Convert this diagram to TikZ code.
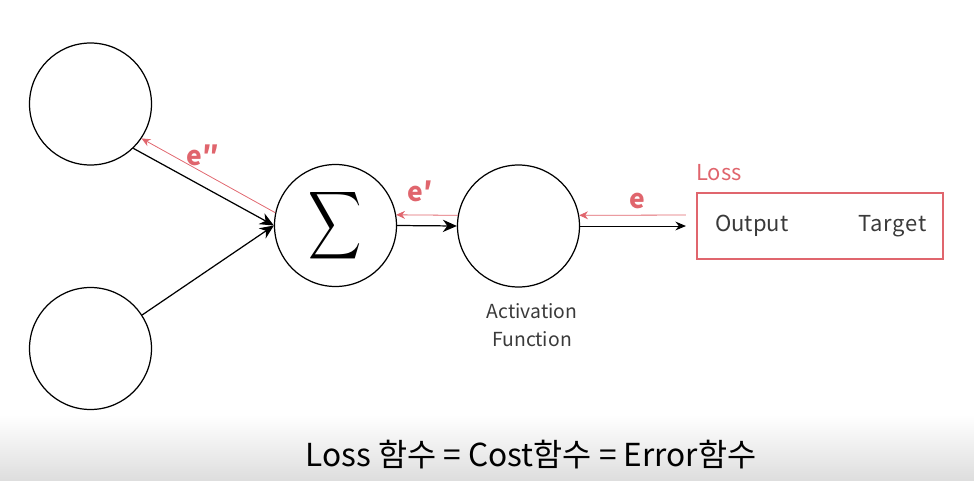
\documentclass[tikz,border=0pt]{standalone}
\usepackage{fontspec}
\setmainfont{Noto Sans CJK KR}
\usetikzlibrary{positioning, arrows.meta}
\definecolor{lossred}{HTML}{E0656D}
\definecolor{textgray}{HTML}{3A3A3A}
\tikzset{
  neuron/.style={draw, circle, line width=0.7pt, minimum size=2.44cm, inner sep=0pt},
  fwd/.style={-{Stealth[length=8pt, width=7pt]}, line width=0.7pt},
  bwd/.style={draw=lossred, -{Stealth[length=5pt, width=4.5pt]}, line width=0.45pt},
  elabel/.style={text=lossred, font=\bfseries\fontsize{15}{15}\selectfont},
  plaintext/.style={text=textgray, font=\fontsize{12.5}{15}\selectfont}
}
\begin{document}
\begin{tikzpicture}
      \useasboundingbox (0,0) rectangle (19.48,9.6);
      \shade[top color=white, bottom color=black!13] (0,0) rectangle (19.48,1.3);

      \node[neuron] (in1) at (1.81,7.52) {};
      \node[neuron] (in2) at (1.81,2.63) {};
      \node[neuron] (sum) at (6.71,5.09) {\scalebox{2.1}[2.7]{$\displaystyle\sum$}};
      \node[neuron] (act) at (10.37,5.08) {};
      \node[draw=lossred, line width=1.2pt, minimum width=4.92cm, minimum height=1.32cm] (loss) at (16.4,5.08) {};

      \node[plaintext, anchor=west] (out) at ([xshift=0.26cm]loss.west) {Output};
      \node[plaintext, anchor=east] (tgt) at ([xshift=-0.22cm]loss.east) {\addfontfeature{LetterSpace=4}Target};
      \node[plaintext, text=lossred, anchor=south west, inner sep=0pt] (losslbl) at ([yshift=0.22cm]loss.north west) {Loss};
      \node[plaintext, font=\fontsize{11}{16}\selectfont, align=center, below=0.2cm of act, xshift=0.27cm] (actlbl) {Activation\\Function};

      % forward pass
      \draw[fwd] (in1.-46) -- (sum.west);
      \draw[fwd] (in2.33) -- (sum.west);
      \draw[fwd] (sum.east) -- (act.west);
      \draw[fwd, line width=0.5pt, -{Stealth[length=6pt, width=5pt]}, shorten >=0.2cm] (act.east) -- (loss.west);

      % error going back
      \draw[bwd, shorten <=0.2cm] ([yshift=0.22cm]loss.west) -- node[elabel, above=0pt] {e} (act.10);
      \draw[bwd] (act.170) -- node[elabel, above=4pt, xshift=-4pt] {e′} (sum.10);
      \draw[bwd] (sum.168) -- node[elabel, above=2pt, xshift=-3pt] {e″} (in1.-34);

      \node[font=\fontsize{18}{18}\selectfont] (caption) at (10.62,0.5) {Loss 함수 = Cost함수 = Error함수};
    \end{tikzpicture}
\end{document}
